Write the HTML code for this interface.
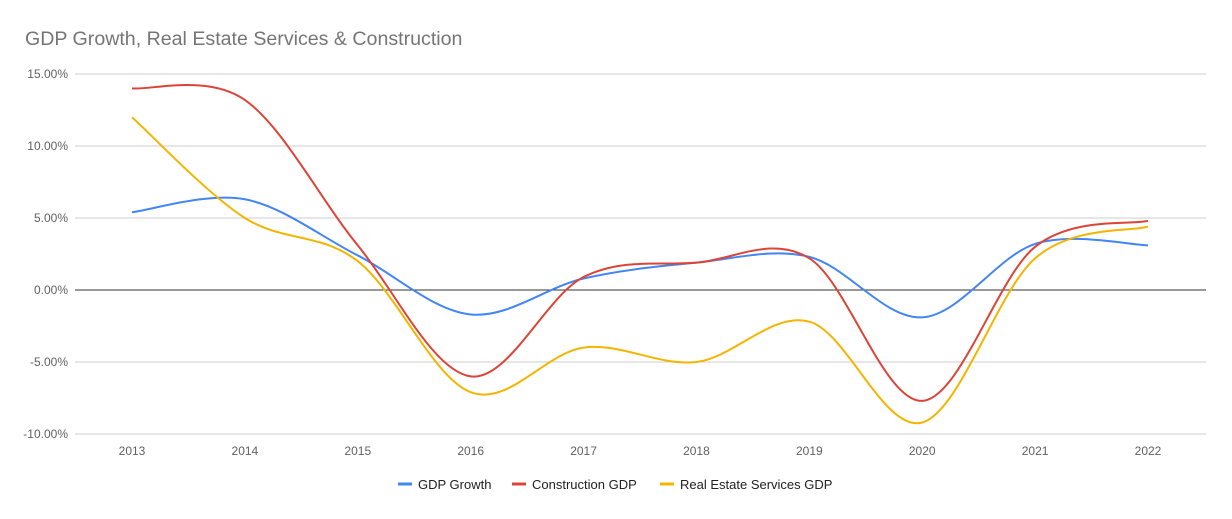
<!DOCTYPE html>
<html><head><meta charset="utf-8"><style>
body{margin:0;background:#fff;}
svg{display:block;font-family:"Liberation Sans",Arial,sans-serif;}
</style></head><body>
<svg id="chart" width="1232" height="519">
<text x="25" y="45" font-size="19.6" fill="#757575">GDP Growth, Real Estate Services &amp; Construction</text>
<g id="grid"></g><g id="lines"></g><g id="legend"></g>
</svg>
<script>
const years=["2013","2014","2015","2016","2017","2018","2019","2020","2021","2022"];
const gdpGrowth=[5.4,6.3,2.4,-1.7,0.8,1.9,2.3,-1.9,3.2,3.1];
const constructionGdp=[14.0,13.2,3.1,-6.0,0.9,1.9,2.2,-7.7,3.0,4.8];
const realEstateGdp=[12.0,5.0,2.0,-7.1,-4.0,-5.0,-2.2,-9.2,2.2,4.4];
const yTicks=[15,10,5,0,-5,-10];
const ns="http://www.w3.org/2000/svg";
const x=i=>132+i*(1148-132)/9;
const y=v=>290-v*14.4;
function mk(t,a,p){const e=document.createElementNS(ns,t);for(const k in a)e.setAttribute(k,a[k]);p.appendChild(e);return e;}
const grid=document.getElementById('grid');
yTicks.forEach(t=>{
 const l=mk('line',{x1:75,x2:1206,y1:y(t),y2:y(t),stroke:t===0?'#333':'#ccc','stroke-width':1},grid);
 
 
 const tx=mk('text',{x:68,y:y(t)+4,'text-anchor':'end','font-size':12,fill:'#616161'},grid);
 tx.textContent=t.toFixed(2)+'%';
 
 
});
years.forEach((yr,i)=>{
 const tx=mk('text',{x:x(i),y:455,'text-anchor':'middle','font-size':12,fill:'#616161'},grid);
 tx.textContent=yr;
 
 
});
function path(vals){
 const p=vals.map((v,i)=>[x(i),y(v)]);
 let d='M'+p[0][0]+','+p[0][1];
 for(let i=0;i<p.length-1;i++){
  const p0=p[i-1]||p[i],p1=p[i],p2=p[i+1],p3=p[i+2]||p[i+1];
  const c1=[p1[0]+(p2[0]-p0[0])/6,p1[1]+(p2[1]-p0[1])/6];
  const c2=[p2[0]-(p3[0]-p1[0])/6,p2[1]-(p3[1]-p1[1])/6];
  d+=' C'+c1+' '+c2+' '+p2;
 }
 return d;
}
const series=[["GDP Growth",gdpGrowth,"#4285f4","gdp-growth-line"],["Construction GDP",constructionGdp,"#db4437","construction-gdp-line"],["Real Estate Services GDP",realEstateGdp,"#f4b400","real-estate-gdp-line"]];
const lines=document.getElementById('lines');
series.forEach(s=>{
 const e=mk('path',{d:path(s[1]),fill:'none',stroke:s[2],'stroke-width':2},lines);
 
 
});
const lg=document.getElementById('legend');
const lx=[398,512,660];
series.forEach((s,i)=>{
 const g=mk('g',{},lg);
 
 
 mk('line',{x1:lx[i],x2:lx[i]+14,y1:484,y2:484,stroke:s[2],'stroke-width':3},g);
 const t=mk('text',{x:lx[i]+20,y:489,'font-size':13,fill:'#222'},g);
 t.textContent=s[0];
});
</script>
</body></html>
